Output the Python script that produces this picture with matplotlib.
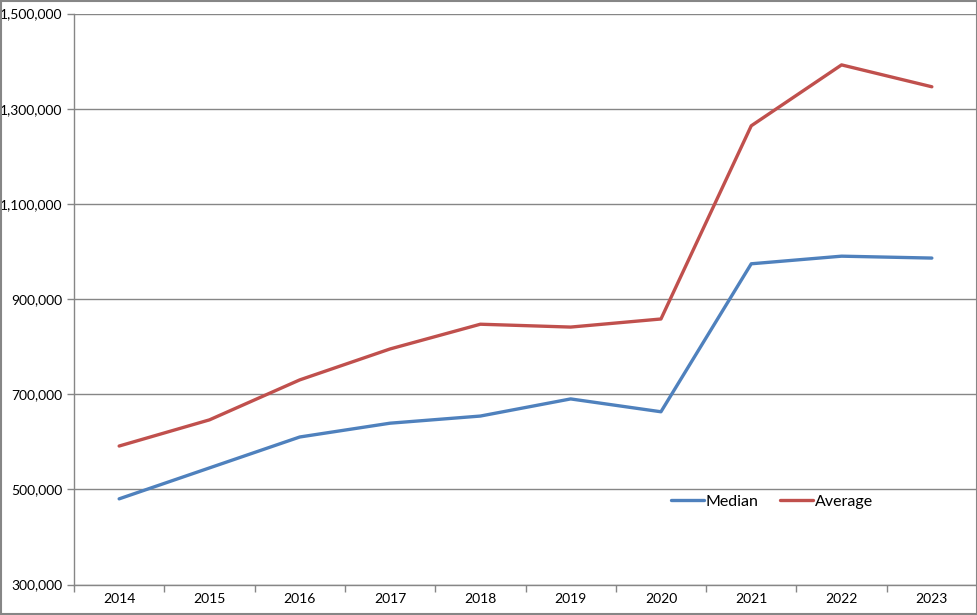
import matplotlib
matplotlib.use("Agg")
import matplotlib.pyplot as plt
from matplotlib.patches import Rectangle
from matplotlib.ticker import FuncFormatter, FixedLocator

years = ["2014", "2015", "2016", "2017", "2018", "2019", "2020", "2021", "2022", "2023"]
median = [480000, 545000, 610000, 639000, 654000, 690000, 663000, 974000, 990000, 986000]
average = [591000, 646000, 730000, 795000, 847000, 841000, 858000, 1264000, 1392000, 1346000]

plt.rcParams['font.family'] = ['Lato', 'DejaVu Sans']

fig = plt.figure(figsize=(9.78, 6.15), dpi=100)
ax = fig.add_axes([74/978, (615-584.5)/615, (977-74)/978, (584.5-13.5)/615])

x = list(range(len(years)))
ax.plot(x, median, color="#4F81BD", lw=2.4, label="Median", solid_capstyle="round", zorder=3)
ax.plot(x, average, color="#C0504D", lw=2.4, label="Average", solid_capstyle="round", zorder=3)

ax.set_xlim(-0.5, len(years) - 0.5)
ax.set_ylim(300000, 1500000)
ax.set_yticks(range(300000, 1500001, 200000))
ax.yaxis.set_major_formatter(FuncFormatter(lambda v, p: f"{int(v):,}"))
ax.set_xticks(x)
ax.set_xticklabels(years)
ax.xaxis.set_minor_locator(FixedLocator([i - 0.5 for i in range(len(years) + 1)]))
ax.tick_params(axis='x', which='major', length=0, labelsize=10, pad=6, colors="#000000")
ax.tick_params(axis='x', which='minor', length=5, color="#868686", width=1)
ax.tick_params(axis='y', which='major', length=5, width=1, labelsize=10, labelcolor="#000000", color="#868686")
ax.grid(axis='y', color="#868686", lw=1)
ax.set_axisbelow(True)
ax.spines['top'].set_visible(False)
for s in ['right', 'left', 'bottom']:
    ax.spines[s].set_color("#868686")
    ax.spines[s].set_linewidth(1)

ax.legend(loc="upper left", bbox_to_anchor=(0.645, 0.183), ncol=2, frameon=False,
          fontsize=11.5, handlelength=2.1, handletextpad=0.1, columnspacing=1.3)

fig.patches.append(Rectangle((0.001, 0.001), 0.998, 0.997, transform=fig.transFigure,
                             fill=False, edgecolor="#868686", lw=1.5))

fig.savefig("out.png", dpi=100)
